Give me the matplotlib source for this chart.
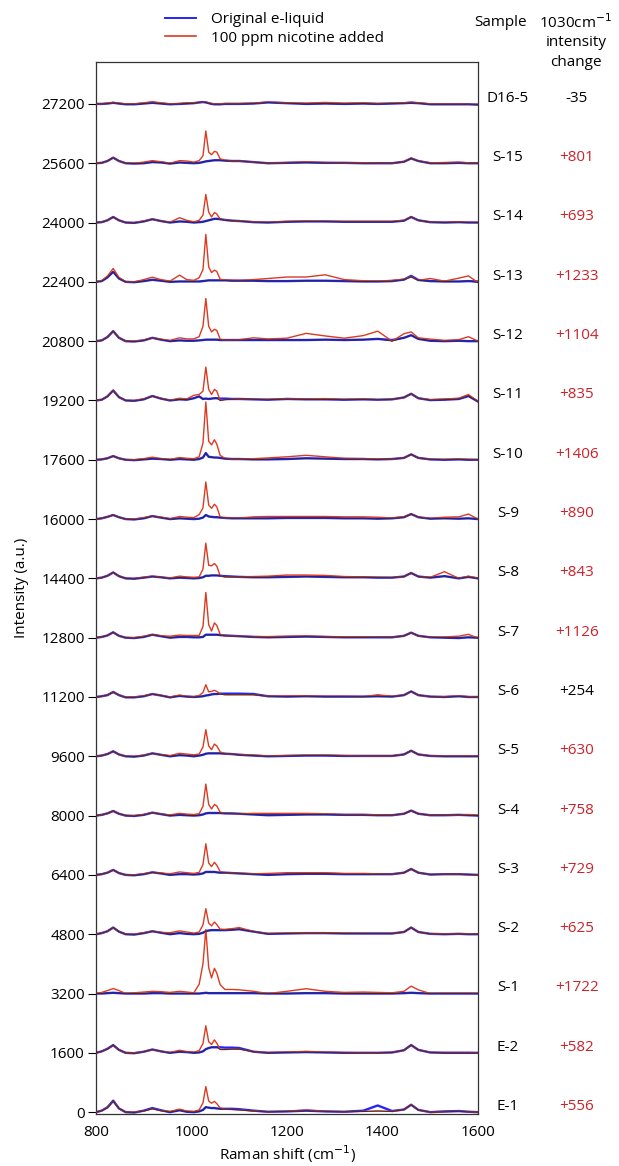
import matplotlib
matplotlib.use("Agg")
import matplotlib.pyplot as plt
import numpy as np

plt.rcParams['font.family'] = ['Open Sans', 'DejaVu Sans']

# Raman shift points the spectra were read at (cm-1)
shift = [800, 812, 824, 836, 848, 862,
         880, 900, 918, 936, 955, 975,
         990, 1005, 1016, 1024, 1030, 1036,
         1042, 1048, 1053, 1060, 1070, 1085,
         1100, 1130, 1160, 1200, 1240, 1280,
         1320, 1360, 1390, 1420, 1445, 1460,
         1475, 1500, 1530, 1560, 1580, 1600]

samples = ["D16-5", "S-15", "S-14", "S-13", "S-12", "S-11", "S-10", "S-9", "S-8",
           "S-7", "S-6", "S-5", "S-4", "S-3", "S-2", "S-1", "E-2", "E-1"]
changes = ["-35", "+801", "+693", "+1233", "+1104", "+835", "+1406", "+890", "+843",
           "+1126", "+254", "+630", "+758", "+729", "+625", "+1722", "+582", "+556"]
offsets = [27200, 25600, 24000, 22400, 20800, 19200, 17600, 16000, 14400,
           12800, 11200, 9600, 8000, 6400, 4800, 3200, 1600, 0]

# original e-liquid spectra (intensity above each offset)
blue = {
    "D16-5": [0, 0, 10, 30, 10, -10, -10, 10, 30, 10, -10, 0, 10, 20, 40, 50, 40, 20,
              0, -10, -10, -10, 0, 0, 0, 10, 40, 20, 0, 10, 0, 10, 0, 10, 20, 30, 20, -10, -10, -10, -10, -20],
    "S-15": [0, 10, 60, 150, 60, 0, -10, 0, 30, 20, -10, 20, 10, 0, 10, 30, 50, 60,
             70, 80, 80, 80, 70, 60, 60, 30, 0, 10, 20, 10, 10, 0, 0, 0, 40, 130, 60, 0, 0, 10, 0, 0],
    "S-14": [0, 10, 60, 150, 60, 0, -10, 30, 90, 40, 0, 30, 20, 0, 10, 20, 40, 60,
             80, 100, 100, 90, 70, 50, 40, 10, 0, 20, 30, 30, 20, 20, 20, 20, 50, 150, 60, 10, 0, 10, 0, 0],
    "S-13": [0, 20, 120, 270, 90, 0, -10, 20, 55, 30, 0, 10, 10, 10, 10, 20, 30, 40,
             40, 40, 40, 40, 40, 30, 30, 30, 20, 20, 30, 30, 20, 10, 10, 20, 60, 160, 50, 20, 10, 10, 20, 10],
    "S-12": [0, 20, 110, 270, 90, 0, -10, 20, 90, 40, 0, 20, 10, 10, 20, 30, 40, 40,
             40, 40, 40, 30, 30, 30, 30, 30, 30, 30, 30, 40, 30, 40, 60, 30, 90, 160, 60, 10, 0, 10, 0, 0],
    "S-11": [0, 20, 110, 270, 90, 0, -10, 30, 120, 50, 0, 30, 20, 60, 110, 40, 50, 40,
             50, 60, 60, 50, 50, 40, 40, 30, 20, 40, 30, 30, 20, 30, 20, 30, 80, 180, 60, 10, 20, 40, 120, -30],
    "S-10": [0, 10, 40, 100, 40, 0, -10, 10, 30, 20, 0, 20, 10, 0, 20, 60, 180, 80,
             70, 60, 60, 50, 30, 20, 20, 10, 10, 20, 40, 30, 20, 20, 10, 20, 50, 145, 50, 10, 0, 10, 0, 0],
    "S-9": [0, 20, 60, 110, 50, 0, -10, 20, 80, 40, 0, 20, 10, 0, 10, 40, 110, 70,
            60, 50, 50, 40, 30, 20, 20, 20, 20, 30, 30, 30, 20, 20, 10, 20, 50, 135, 50, 10, 20, 10, 20, 0],
    "S-8": [0, 20, 70, 160, 60, 0, -10, 20, 50, 30, 0, 20, 10, 0, 10, 30, 70, 70,
            80, 80, 80, 70, 60, 50, 40, 30, 30, 40, 50, 40, 30, 30, 20, 20, 50, 145, 50, 20, 60, 0, 40, 0],
    "S-7": [0, 20, 60, 145, 50, 0, -10, 20, 80, 40, 0, 20, 20, 10, 10, 20, 80, 80,
            80, 80, 80, 70, 60, 50, 40, 20, 10, 20, 30, 20, 10, 10, 10, 10, 50, 135, 50, 10, 0, -10, 10, 0],
    "S-6": [0, 20, 50, 135, 50, -10, -10, 20, 80, 40, -10, 30, 10, 0, 10, 20, 40, 50,
            70, 80, 80, 90, 90, 90, 90, 80, 20, 10, 20, 10, 10, 10, 20, 10, 50, 150, 50, 10, 0, 20, 0, 0],
    "S-5": [0, 20, 60, 135, 50, 0, -10, 20, 80, 40, 0, 30, 20, 0, 20, 40, 70, 80,
            80, 80, 80, 80, 70, 60, 40, 20, 0, 10, 20, 20, 10, 10, 10, 10, 50, 150, 50, 10, 0, 0, 0, 0],
    "S-4": [0, 20, 60, 125, 50, 0, -10, 20, 80, 40, 0, 20, 10, 0, 10, 30, 60, 70,
            70, 70, 70, 70, 60, 60, 50, 30, 10, 20, 30, 30, 20, 20, 10, 10, 50, 135, 50, 10, 10, 20, 10, 0],
    "S-3": [0, 20, 60, 135, 50, 0, -10, 20, 70, 40, 0, 20, 20, 10, 20, 40, 80, 80,
            80, 80, 70, 60, 60, 50, 40, 20, 0, 20, 30, 30, 20, 20, 20, 20, 60, 160, 60, 10, 20, 20, 10, 0],
    "S-2": [0, 30, 80, 180, 70, 0, -10, 30, 80, 40, 0, 30, 10, 0, 10, 40, 80, 100,
            110, 110, 110, 110, 110, 120, 135, 70, 10, 20, 30, 30, 20, 20, 20, 20, 60, 180, 60, 10, 0, 10, 0, 0],
    "S-1": [0, 0, 10, 20, 10, 0, 0, 0, 10, 10, 0, 0, 0, 0, 0, 10, 20, 10,
            10, 10, 10, 10, 10, 10, 10, 10, 0, 0, 10, 10, 0, 0, 0, 0, 10, 20, 10, 0, 0, 0, 0, 0],
    "E-2": [0, 40, 110, 210, 80, 0, -10, 30, 90, 40, 0, 30, 20, 0, 10, 40, 100, 130,
            150, 150, 150, 150, 140, 140, 130, 30, 0, 10, 20, 10, 0, 0, 0, 10, 70, 210, 80, 10, 0, 0, 0, 0],
    "E-1": [0, 40, 130, 310, 100, 0, -10, 40, 110, 50, 0, 50, 10, 0, 20, 60, 135, 120,
            110, 110, 100, 90, 90, 90, 80, 40, 10, 20, 40, 20, 10, 40, 180, 30, 70, 200, 60, 0, 20, 30, 10, 0],
}

# with 100 ppm nicotine added
red = {
    "D16-5": [0, 0, 20, 40, 20, 0, 0, 30, 60, 30, 0, 10, 30, 30, 40, 50, 50, 30,
              10, 0, 0, 0, 10, 10, 10, 20, 50, 30, 20, 40, 20, 30, 10, 20, 30, 50, 30, 0, 0, 0, -10, -10],
    "S-15": [0, 10, 60, 150, 60, 0, 0, 30, 70, 40, 0, 70, 60, 30, 70, 200, 870, 300,
             230, 320, 300, 120, 80, 60, 60, 30, 0, 20, 40, 20, 10, 10, 0, 0, 40, 140, 60, 10, 20, 30, 10, 0],
    "S-14": [0, 10, 60, 150, 60, 0, 0, 40, 90, 40, 10, 130, 60, 20, 60, 200, 760, 280,
             150, 270, 230, 90, 60, 50, 40, 20, 10, 30, 40, 30, 30, 30, 30, 30, 60, 150, 60, 10, 10, 20, 10, 0],
    "S-13": [0, 30, 160, 360, 120, 0, 0, 60, 125, 60, 20, 180, 60, 40, 110, 330, 1280, 400,
             250, 315, 280, 70, 50, 45, 40, 60, 90, 130, 130, 190, 60, 30, 20, 40, 70, 135, 40, 90, 20, 100, 160, -20],
    "S-12": [0, 20, 110, 270, 90, 0, 0, 30, 90, 50, 20, 90, 60, 60, 120, 400, 1150, 400,
             250, 320, 290, 50, 30, 30, 40, 90, 60, 80, 210, 140, 80, 150, 270, 0, 200, 250, 90, 55, 20, 40, 120, 0],
    "S-11": [0, 20, 110, 270, 90, 0, 0, 40, 120, 60, 0, 60, 40, 140, 160, 250, 900, 300,
             160, 300, 250, 0, 20, 30, 40, 30, 30, 50, 40, 50, 30, 40, 20, 30, 80, 180, 60, 20, 40, 60, 160, -30],
    "S-10": [0, 10, 40, 100, 40, 0, 0, 30, 70, 30, 10, 60, 40, 30, 80, 450, 1560, 500,
             400, 540, 420, 120, 40, 20, 20, 30, 50, 80, 120, 80, 40, 30, 20, 20, 50, 145, 50, 10, 10, 20, 10, 0],
    "S-9": [0, 20, 60, 110, 50, 0, 0, 40, 80, 50, 10, 70, 50, 40, 120, 300, 1000, 380,
            290, 400, 330, 50, 30, 30, 30, 60, 70, 70, 70, 70, 60, 60, 50, 30, 60, 135, 50, 20, 50, 60, 135, 0],
    "S-8": [0, 20, 70, 160, 60, 0, 0, 30, 60, 30, 10, 60, 40, 30, 40, 250, 950, 350,
            340, 400, 330, 70, 40, 40, 40, 50, 60, 90, 90, 80, 50, 40, 30, 20, 50, 145, 50, 30, 180, 0, 60, 0],
    "S-7": [0, 20, 60, 145, 50, 0, 0, 40, 80, 50, 40, 70, 60, 60, 60, 300, 1220, 350,
            180, 400, 330, 90, 50, 40, 40, 30, 30, 40, 50, 30, 20, 20, 10, 10, 50, 135, 50, 10, 20, 40, 90, -10],
    "S-6": [0, 20, 50, 140, 50, -10, 0, 30, 80, 40, 0, 50, 20, 10, 40, 120, 330, 140,
            150, 180, 150, 80, 60, 60, 60, 60, 20, 30, 30, 20, 20, 10, 60, 20, 50, 150, 50, 10, 10, 30, 10, 0],
    "S-5": [0, 20, 60, 135, 50, 0, 0, 30, 80, 40, 20, 80, 60, 40, 60, 250, 720, 280,
            180, 330, 280, 120, 70, 60, 50, 30, 10, 20, 30, 30, 20, 10, 10, 10, 50, 150, 50, 10, 10, 10, 10, 0],
    "S-4": [0, 20, 60, 125, 50, 0, 0, 30, 80, 40, 20, 60, 40, 30, 50, 250, 850, 300,
            180, 300, 260, 90, 60, 50, 50, 60, 60, 60, 60, 50, 30, 30, 20, 10, 50, 135, 50, 10, 10, 20, 30, 10],
    "S-3": [0, 20, 60, 135, 50, 0, 0, 30, 70, 50, 30, 80, 60, 40, 70, 280, 840, 320,
            225, 340, 260, 90, 60, 50, 40, 30, 40, 60, 60, 60, 40, 40, 30, 20, 60, 160, 60, 10, 20, 20, 10, 0],
    "S-2": [0, 30, 80, 180, 70, 0, 0, 40, 80, 50, 40, 90, 60, 30, 60, 250, 690, 300,
            225, 330, 260, 135, 130, 150, 180, 70, 20, 30, 40, 40, 30, 20, 20, 20, 60, 180, 60, 10, 10, 10, 10, 0],
    "S-1": [0, 30, 80, 135, 80, 0, 20, 40, 60, 50, 30, 60, 40, 20, 250, 800, 1730, 700,
            420, 680, 550, 240, 110, 110, 100, 60, 0, 60, 130, 60, 30, 40, 30, 20, 60, 200, 100, 0, 10, 10, 10, 0],
    "E-2": [0, 40, 100, 200, 80, 0, 0, 30, 90, 40, 10, 70, 30, 20, 60, 250, 730, 300,
            225, 350, 260, 90, 90, 100, 100, 30, 10, 20, 40, 20, 10, 0, 0, 10, 70, 210, 80, 10, 10, 10, 10, 0],
    "E-1": [0, 40, 120, 290, 100, 0, 0, 30, 90, 40, 20, 80, 30, 20, 60, 250, 690, 300,
            240, 290, 230, 110, 80, 70, 60, 30, 10, 20, 60, 20, 10, 20, 30, 20, 70, 200, 60, 0, 10, 20, 10, 0],
}

black_nums = ["-35", "+254"]

fig = plt.figure(figsize=(6.19, 11.66), dpi=100)
ax = fig.add_axes([0.1551, 0.0446, 0.6171, 0.9022])

x = np.array(shift)
for name, off in zip(samples, offsets):
    b = np.array(blue[name]) + off
    r = np.array(red[name]) + off
    ax.plot(x, b, color="#2424ff", lw=1.7, zorder=2)
    ax.plot(x, r, color="#dc3a20", lw=1.0, zorder=3)
    ax.plot(x, np.minimum(b, r), color="#2a2a2a", lw=0.6, zorder=4)

ax.set_xlim(800, 1600)
ax.set_ylim(-50, 28330)
ax.set_xticks([800, 1000, 1200, 1400, 1600])
ax.set_yticks(offsets)
ax.tick_params(axis="y", direction="out", length=6, width=0.8, labelsize=11, pad=2)
ax.tick_params(axis="x", length=0, labelsize=11, pad=8)
for s in ax.spines.values():
    s.set_linewidth(0.9)
    s.set_color("#333333")
ax.set_xlabel("Raman shift (cm$^{-1}$)", fontsize=11, labelpad=2)
ax.set_ylabel("Intensity (a.u.)", fontsize=11, labelpad=9)

trans = ax.get_yaxis_transform()
for name, off, ch in zip(samples, offsets, changes):
    ax.text(1.0785, off + 150, name, transform=trans, ha="center", va="center",
            fontsize=11, clip_on=False)
    col = "black" if ch in black_nums else "#cc2229"
    ax.text(1.259, off + 150, ch, transform=trans, ha="center", va="center",
            fontsize=11, color=col, clip_on=False)

fig.text(501 / 619, 1 - 23 / 1166, "Sample", ha="center", va="center", fontsize=11)
fig.text(576 / 619, 1 - 23 / 1166, "1030cm$^{-1}$", ha="center", va="center", fontsize=11)
fig.text(576 / 619, 1 - 43 / 1166, "intensity", ha="center", va="center", fontsize=11)
fig.text(576 / 619, 1 - 62 / 1166, "change", ha="center", va="center", fontsize=11)

h1, = ax.plot([], [], color="#2424ff", lw=1.4)
h2, = ax.plot([], [], color="#dc3a20", lw=1.2)
fig.legend([h1, h2], ["Original e-liquid", "100 ppm nicotine added"],
           loc="upper left", bbox_to_anchor=(165 / 619, 1 - 12 / 1166),
           frameon=False, fontsize=11, handlelength=2.0, handletextpad=1.0,
           labelspacing=0.25, borderpad=0, borderaxespad=0)

fig.savefig("out.png", dpi=100)
